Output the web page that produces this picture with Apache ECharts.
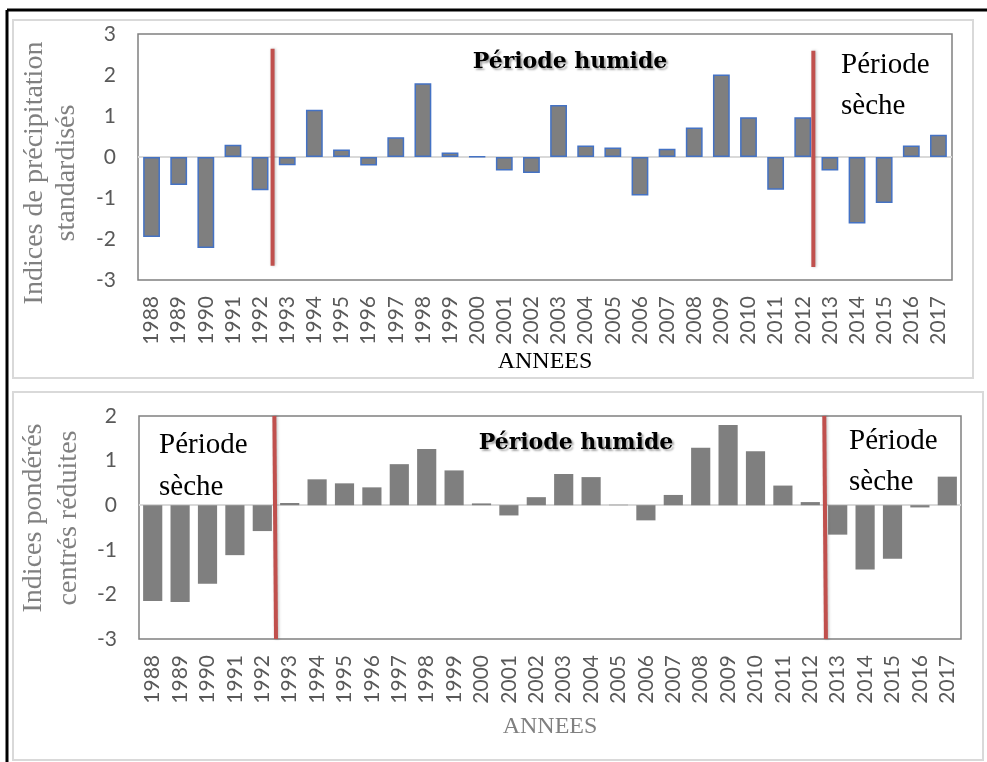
<!DOCTYPE html>
<html>
<head>
<meta charset="utf-8">
<script src="https://cdn.jsdelivr.net/npm/echarts@6/dist/echarts.min.js"></script>
<style>
html,body{margin:0;padding:0;background:#fff;}
#c{width:987px;height:762px;}
</style>
</head>
<body>
<div id="c"></div>
<script>
// ---- data ----
var years = ['1988','1989','1990','1991','1992','1993','1994','1995','1996','1997','1998','1999','2000','2001','2002','2003','2004','2005','2006','2007','2008','2009','2010','2011','2012','2013','2014','2015','2016','2017'];
var ipsValues = [-1.95,-0.68,-2.22,0.30,-0.81,-0.20,1.15,0.18,-0.21,0.48,1.80,0.11,0.01,-0.33,-0.39,1.27,0.28,0.23,-0.94,0.20,0.72,2.01,0.97,-0.80,0.97,-0.33,-1.62,-1.12,0.28,0.54];
var ipcrValues = [-2.15,-2.17,-1.76,-1.12,-0.58,0.05,0.58,0.49,0.40,0.92,1.26,0.78,0.04,-0.23,0.18,0.70,0.63,0.01,-0.34,0.23,1.29,1.80,1.21,0.44,0.07,-0.66,-1.44,-1.20,-0.05,0.64];
var topYTicks = [-3, 3];      // min, max
var bottomYTicks = [-3, 2];   // min, max
// rupture lines (position in category units from left edge, y start, y end)
var topBreaks = [[4.96, 2.64, -2.65], [24.89, 2.59, -2.68]];
var bottomBreaks = [[4.94, 2.0, 5.0, -3.0], [25.01, 2.0, 25.07, -3.0]];

var chart = echarts.init(document.getElementById('c'), null, {renderer: 'canvas'});

var labelFont = 'Lato';
var serif = '"Liberation Serif", "Times New Roman", serif';

function breakSeries(xi, yi, pts) {
  return {
    type: 'line', xAxisIndex: xi, yAxisIndex: yi, data: pts,
    symbol: 'none', silent: true, z: 5,
    lineStyle: {color: '#c0504d', width: 4, shadowColor: 'rgba(0,0,0,0.25)', shadowBlur: 3, shadowOffsetX: 1}
  };
}

var series = [
  {
    type: 'bar', xAxisIndex: 0, yAxisIndex: 0, data: ipsValues, barWidth: '62%',
    itemStyle: {color: '#7f7f7f', borderColor: '#4472c4', borderWidth: 1.5},
    markLine: {silent: true, symbol: 'none', label: {show: false}, z: 1,
      lineStyle: {color: '#d9d9d9', width: 2, type: 'solid'}, data: [{yAxis: 0}]}
  },
  {
    type: 'bar', xAxisIndex: 1, yAxisIndex: 1, data: ipcrValues, barWidth: '70%',
    itemStyle: {color: '#7f7f7f'},
    markLine: {silent: true, symbol: 'none', label: {show: false}, z: 1,
      lineStyle: {color: '#d9d9d9', width: 2, type: 'solid'}, data: [{yAxis: 0}]}
  }
];
topBreaks.forEach(function (b) {
  series.push(breakSeries(2, 0, [[b[0], b[1]], [b[0], b[2]]]));
});
bottomBreaks.forEach(function (b) {
  series.push(breakSeries(3, 1, [[b[0], b[1]], [b[2], b[3]]]));
});

function catAxis(gi) {
  return {
    type: 'category', gridIndex: gi, data: years,
    axisLine: {show: false}, axisTick: {show: false},
    axisLabel: {rotate: 90, color: '#595959', fontFamily: labelFont, fontSize: 21, margin: 16, interval: 0}
  };
}
function hiddenX(gi) {
  return {type: 'value', gridIndex: gi, min: 0, max: 30, show: false};
}
function valAxis(gi, mm) {
  return {
    type: 'value', gridIndex: gi, min: mm[0], max: mm[1], interval: 1,
    axisLine: {show: false}, axisTick: {show: false}, splitLine: {show: false},
    axisLabel: {color: '#595959', fontFamily: labelFont, fontSize: 21, margin: 22}
  };
}

var g = [];
// outer document frame
g.push({type: 'line', shape: {x1: 7, y1: 10, x2: 987, y2: 10}, style: {stroke: '#000', lineWidth: 3}, silent: true});
g.push({type: 'line', shape: {x1: 7, y1: 10, x2: 7, y2: 762}, style: {stroke: '#000', lineWidth: 3}, silent: true});
// chart boxes
g.push({type: 'rect', shape: {x: 13, y: 20, width: 960, height: 358}, style: {fill: 'none', stroke: '#d9d9d9', lineWidth: 2}, silent: true});
g.push({type: 'rect', shape: {x: 13, y: 392, width: 970, height: 368}, style: {fill: 'none', stroke: '#d9d9d9', lineWidth: 2}, silent: true});
// y axis titles
g.push({type: 'text', x: 51, y: 173, rotation: Math.PI / 2, silent: true,
  style: {text: 'Indices de précipitation\nstandardisés', font: '28px ' + serif, fill: '#808080', align: 'center', verticalAlign: 'middle', lineHeight: 32}});
g.push({type: 'text', x: 51, y: 518, rotation: Math.PI / 2, silent: true,
  style: {text: 'Indices pondérés\ncentrés réduites', font: '28px ' + serif, fill: '#808080', align: 'center', verticalAlign: 'middle', lineHeight: 35}});
// x axis titles
g.push({type: 'text', x: 545, y: 362, silent: true,
  style: {text: 'ANNEES', font: '24px ' + serif, fill: '#000', align: 'center', verticalAlign: 'middle'}});
g.push({type: 'text', x: 550, y: 727, silent: true,
  style: {text: 'ANNEES', font: '24px ' + serif, fill: '#808080', align: 'center', verticalAlign: 'middle'}});
// period annotations
var boldFont = 'bold 22px "DejaVu Serif", serif';
var shadow = {textShadowColor: 'rgba(0,0,0,0.35)', textShadowBlur: 2, textShadowOffsetX: 2, textShadowOffsetY: 2};
g.push({type: 'text', x: 570, y: 62, silent: true, z: 10,
  style: Object.assign({text: 'Période humide', font: boldFont, fill: '#000', align: 'center', verticalAlign: 'middle'}, shadow)});
g.push({type: 'text', x: 576, y: 443, silent: true, z: 10,
  style: Object.assign({text: 'Période humide', font: boldFont, fill: '#000', align: 'center', verticalAlign: 'middle'}, shadow)});
g.push({type: 'text', x: 841, y: 86, silent: true, z: 10,
  style: {text: 'Période\nsèche', font: '29px ' + serif, fill: '#000', align: 'left', verticalAlign: 'middle', lineHeight: 41}});
g.push({type: 'text', x: 159, y: 466, silent: true, z: 10,
  style: {text: 'Période\nsèche', font: '29px ' + serif, fill: '#000', align: 'left', verticalAlign: 'middle', lineHeight: 42}});
g.push({type: 'text', x: 849, y: 462, silent: true, z: 10,
  style: {text: 'Période\nsèche', font: '29px ' + serif, fill: '#000', align: 'left', verticalAlign: 'middle', lineHeight: 41}});

chart.setOption({
  animation: false,
  backgroundColor: '#fff',
  grid: [
    {left: 138, top: 34, right: 35, height: 246, show: true, borderColor: '#808080', borderWidth: 1.5, backgroundColor: 'transparent'},
    {left: 139, top: 416, right: 26, height: 223, show: true, borderColor: '#808080', borderWidth: 1.5, backgroundColor: 'transparent'}
  ],
  xAxis: [catAxis(0), catAxis(1), hiddenX(0), hiddenX(1)],
  yAxis: [valAxis(0, topYTicks), valAxis(1, bottomYTicks)],
  series: series,
  graphic: g
});
</script>
</body>
</html>
